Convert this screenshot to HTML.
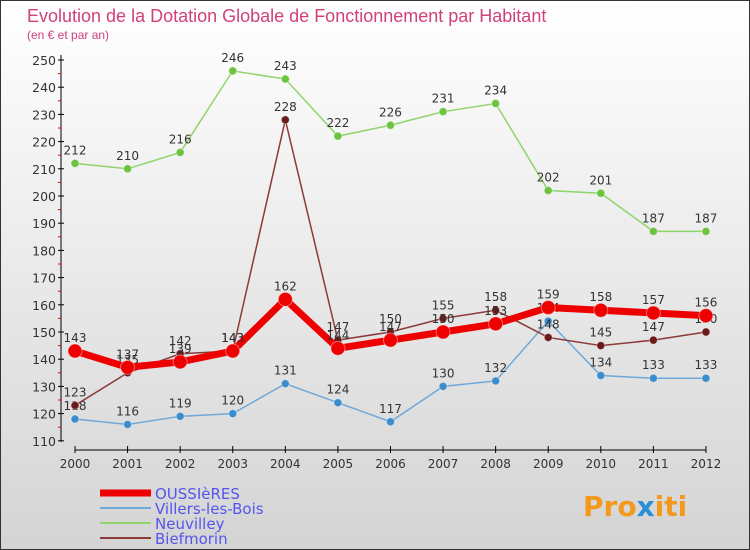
<!DOCTYPE html>
<html><head><meta charset="utf-8"><style>
body{margin:0}
svg{display:block;font-family:"DejaVu Sans","Liberation Sans",sans-serif}
</style></head><body>
<svg width="750" height="550">
<defs><linearGradient id="bg" x1="0" y1="0" x2="0" y2="1"><stop offset="0" stop-color="#ffffff"/><stop offset="1" stop-color="#d4d4d4"/></linearGradient></defs>
<rect x="0.5" y="0.5" width="749" height="549" fill="url(#bg)" stroke="#333"/>
<text x="27" y="22" font-size="18" fill="#d0407a" font-family="Liberation Sans, sans-serif">Evolution de la Dotation Globale de Fonctionnement par Habitant</text>
<text x="27" y="39" font-size="12" fill="#d0407a" font-family="Liberation Sans, sans-serif">(en € et par an)</text>
<g id="axes"></g><g id="series"></g><g id="legend"></g>
<text x="583" y="516" font-size="28" font-weight="bold" fill="#f39a1e">Pro<tspan fill="#2a8fd6">x</tspan>iti</text>
</svg>
<script>
const years=[2000,2001,2002,2003,2004,2005,2006,2007,2008,2009,2010,2011,2012];
const yTicks=[110,120,130,140,150,160,170,180,190,200,210,220,230,240,250];
const oussieres=[143,137,139,143,162,144,147,150,153,159,158,157,156];
const villers=[118,116,119,120,131,124,117,130,132,154,134,133,133];
const neuvilley=[212,210,216,246,243,222,226,231,234,202,201,187,187];
const biefmorin=[123,135,142,143,228,147,150,155,158,148,145,147,150];
const NS="http://www.w3.org/2000/svg";
const X=i=>75+i*52.58, Y=v=>60+(250-v)*2.72;
function mk(t,a,p){const e=document.createElementNS(NS,t);for(const k in a)e.setAttribute(k,a[k]);p.appendChild(e);return e;}
const ax=document.getElementById('axes');
let l=mk('line',{x1:61,y1:55,x2:61,y2:442,stroke:'#000'},ax);

l=mk('line',{x1:75,y1:450,x2:706,y2:450,stroke:'#000'},ax);

yTicks.forEach(v=>{mk('line',{x1:58,y1:Y(v),x2:64,y2:Y(v),stroke:'#000'},ax);
 if(v<250)mk('line',{x1:58,y1:Y(v+5),x2:61,y2:Y(v+5),stroke:'#e00'},ax);
 const t=mk('text',{x:56,y:Y(v)+5,'text-anchor':'end','font-size':12.5,fill:'#333'},ax);t.textContent=v;
 });
years.forEach((y,i)=>{mk('line',{x1:X(i),y1:446,x2:X(i),y2:453,stroke:'#000'},ax);
 const t=mk('text',{x:X(i),y:468,'text-anchor':'middle','font-size':12,fill:'#333'},ax);t.textContent=y;
 });
const sg=document.getElementById('series');
const S=[[neuvilley,'#8fd46a','#6cc33f',1.5,4,'neuvilley'],[villers,'#6fa8d8','#3a8ccc',1.5,4,'villers-les-bois'],[biefmorin,'#8b3a3a','#6b1a1a',1.5,4,'biefmorin'],[oussieres,'#ee0000','#ee0000',7,7,'oussieres']];
S.forEach(([d,c,dc,w,r,n])=>{const g=mk('g',{},sg);
 const p=mk('polyline',{points:d.map((v,i)=>X(i)+','+Y(v)).join(' '),fill:'none',stroke:c,'stroke-width':w},g);
 
 d.forEach((v,i)=>{const e=mk('circle',{cx:X(i),cy:Y(v),r:r,fill:dc,stroke:'#fff','stroke-opacity':0.4},g);
  
  const t=mk('text',{x:X(i),y:Y(v)-9,'text-anchor':'middle','font-size':12,fill:'#333'},g);t.textContent=v;
  });});
const lg=document.getElementById('legend');
[['OUSSIèRES','#ee0000',7],['Villers-les-Bois','#6fa8d8',2],['Neuvilley','#8fd46a',2],['Biefmorin','#8b3a3a',2]].forEach(([n,c,w],i)=>{
 const y=493+i*15;const g=mk('g',{},lg);
 mk('line',{x1:100,y1:y,x2:151,y2:y,stroke:c,'stroke-width':w},g);
 const t=mk('text',{x:155,y:y+6,'font-size':15,fill:'#5555ee'},g);t.textContent=n;});
</script>
</body></html>
